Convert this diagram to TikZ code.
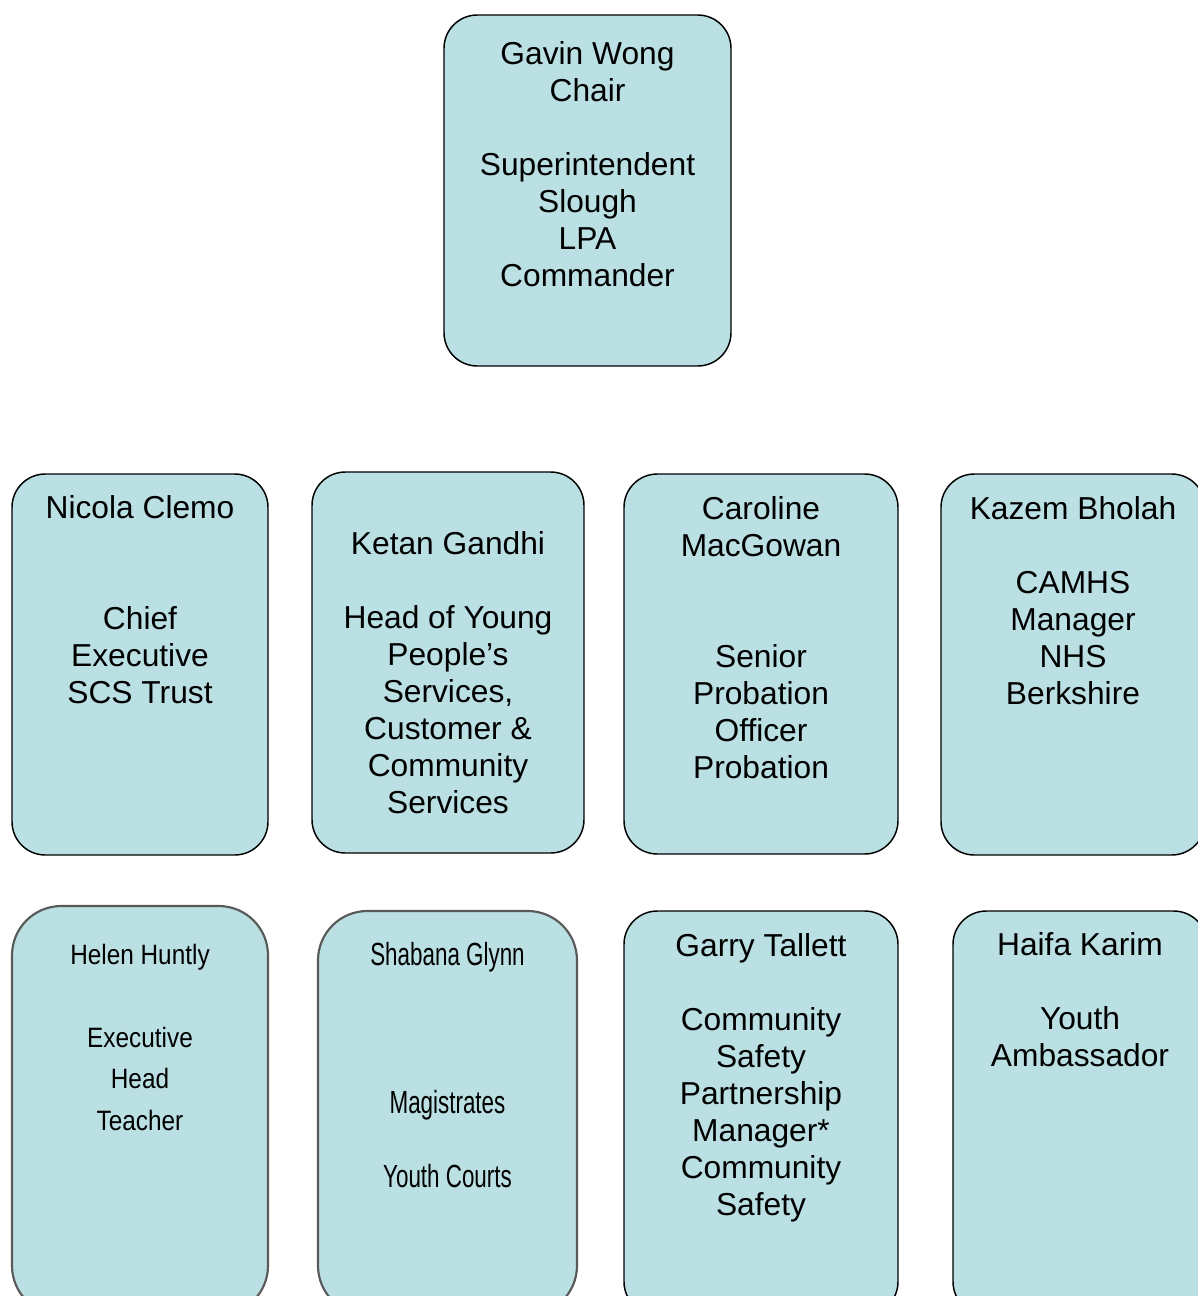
\documentclass[tikz,border=0pt]{standalone}
\usepackage{fontspec}
\setmainfont{Liberation Sans}
\newfontfamily\narrowA[FakeStretch=0.87]{Liberation Sans}
\newfontfamily\narrowB[FakeStretch=0.70]{Liberation Sans}
\usetikzlibrary{positioning}
\definecolor{boxfill}{RGB}{186,224,227}
\newcommand{\px}{0.75pt}
\tikzset{
  member/.style={draw=black, line width=1.1pt, fill=boxfill, rounded corners=25pt, inner sep=0pt},
  oldmember/.style={member, draw=black!65, line width=1.6pt, rounded corners=37pt},
  role/.style={align=center, inner sep=0pt, font=\fontsize{23.8}{27.75}\selectfont},
}
\begin{document}
\begin{tikzpicture}[x=0.75pt,y=-0.75pt]
  \useasboundingbox (0,0) rectangle (1198,1296);
  % chair
  \node[member, minimum width=287*\px, minimum height=351*\px] (chair) at (587.5,190.5) {};
  \node[role, below=18pt of chair.north] (chairtxt) {\strut Gavin Wong\\ Chair\\ \\ Superintendent\\ Slough\\ LPA\\ Commander};
  % second row
  \node[member, minimum width=256*\px, minimum height=381*\px] (clemo) at (140,664.5) {};
  \node[member, minimum width=272*\px, minimum height=381*\px] (gandhi) at (448,662.5) {};
  \node[member, minimum width=274*\px, minimum height=380*\px] (macgowan) at (761,664) {};
  \node[member, minimum width=264*\px, minimum height=381*\px] (bholah) at (1073,664.5) {};
  \node[role, below=14.3pt of clemo.north] {\strut Nicola Clemo\\ \\ \\ Chief\\ Executive\\ SCS Trust};
  \node[role, below=42.8pt of gandhi.north] {\strut Ketan Gandhi\\ \\ Head of Young\\ People’s\\ Services,\\ Customer \&\\ Community\\ Services};
  \node[role, below=15pt of macgowan.north] {\strut Caroline\\ MacGowan\\ \\ \\ Senior\\ Probation\\ Officer\\ Probation};
  \node[role, below=15pt of bholah.north] {\strut Kazem Bholah\\ \\ CAMHS\\ Manager\\ NHS\\ Berkshire};
  % third row
  \node[oldmember, minimum width=256*\px, minimum height=409*\px] (huntly) at (140,1110.5) {};
  \node[oldmember, minimum width=259*\px, minimum height=404*\px] (glynn) at (447.5,1113) {};
  \node[member, minimum width=274*\px, minimum height=404*\px] (tallett) at (761,1113) {};
  \node[member, minimum width=254*\px, minimum height=404*\px] (karim) at (1080,1113) {};
  \node[role, font=\narrowA\fontsize{21}{31.1}\selectfont, below=22.5pt of huntly.north] {\strut Helen Huntly\\ \\ Executive\\ Head\\ Teacher};
  \node[role, font=\narrowB\fontsize{24}{27.75}\selectfont, below=22pt of glynn.north] {\strut Shabana Glynn\\ \\ \\ \\ Magistrates\\ \\ Youth Courts};
  \node[role, below=15pt of tallett.north] {\strut Garry Tallett\\ \\ Community\\ Safety\\ Partnership\\ Manager*\\ Community\\ Safety};
  \node[role, below=14.3pt of karim.north] {\strut Haifa Karim\\ \\ Youth\\ Ambassador};
\end{tikzpicture}
\end{document}
